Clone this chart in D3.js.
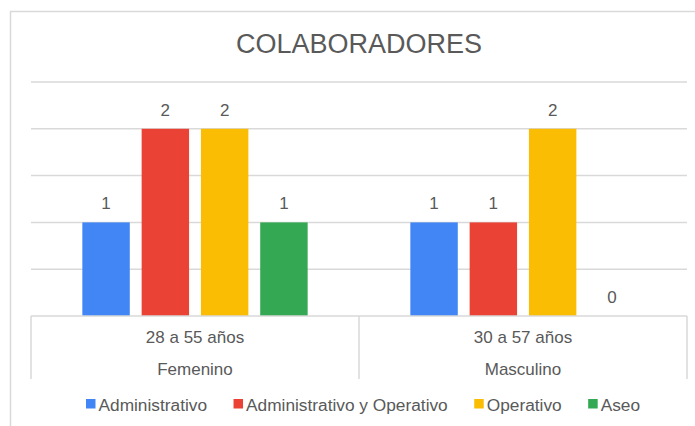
<!DOCTYPE html>
<html>
<head>
<meta charset="utf-8">
<script src="https://cdn.jsdelivr.net/npm/d3@7"></script>
<style>
  html, body { margin: 0; padding: 0; background: #fff; }
  svg { display: block; font-family: "Liberation Sans", Arial, sans-serif; }
</style>
</head>
<body>
<svg id="chart" width="695" height="426"></svg>
<script>
// ---- data ----
const title = "COLABORADORES";
const groups = ["Femenino", "Masculino"];
const ageRanges = ["28 a 55 años", "30 a 57 años"];
const seriesNames = ["Administrativo", "Administrativo y Operativo", "Operativo", "Aseo"];
const seriesColors = ["#4285F4", "#EA4335", "#FBBC04", "#34A853"];
const administrativo = [1, 1];
const adminOperativo = [2, 1];
const operativo = [2, 2];
const aseo = [1, 0];
const yTicks = [0, 0.5, 1, 1.5, 2, 2.5];

const seriesValues = [administrativo, adminOperativo, operativo, aseo];

const svg = d3.select("#chart");
const textColor = "#595959";
const gridColor = "#d9d9d9";

// outer chart border (clipped on right/bottom)
svg.append("rect")
  .attr("x", 10.5).attr("y", 11.5)
  .attr("width", 700).attr("height", 430)
  .attr("fill", "none").attr("stroke", gridColor).attr("stroke-width", 1.5);

// title
svg.append("text")
  .attr("x", 359).attr("y", 53)
  .attr("text-anchor", "middle")
  .attr("font-size", 27)
  .attr("fill", textColor)
  .text(title);

const plotLeft = 31, plotRight = 687;
const y = d3.scaleLinear().domain([0, 2.5]).range([316, 82]);
const x0 = d3.scaleBand().domain(groups).range([plotLeft, plotRight]);
const x1 = d3.scaleBand().domain(seriesNames).range([0, x0.bandwidth()])
  .paddingInner(0.2).paddingOuter(0.866);

// gridlines
svg.append("g").selectAll("line")
  .data(yTicks.slice(1))
  .join("line")
  .attr("x1", plotLeft).attr("x2", plotRight)
  .attr("y1", d => y(d)).attr("y2", d => y(d))
  .attr("stroke", gridColor).attr("stroke-width", 1.5);

// bars
const gGroups = svg.append("g").selectAll("g")
  .data(groups)
  .join("g")
  .attr("transform", d => `translate(${x0(d)},0)`);

gGroups.selectAll("rect")
  .data((g, gi) => seriesNames.map((s, si) => ({ s, si, v: seriesValues[si][gi] })))
  .join("rect")
  .attr("x", d => x1(d.s))
  .attr("width", x1.bandwidth())
  .attr("y", d => y(d.v))
  .attr("height", d => y(0) - y(d.v))
  .attr("fill", d => seriesColors[d.si]);

gGroups.selectAll("text")
  .data((g, gi) => seriesNames.map((s, si) => ({ s, si, v: seriesValues[si][gi] })))
  .join("text")
  .attr("x", d => x1(d.s) + x1.bandwidth() / 2)
  .attr("y", d => y(d.v) - 13)
  .attr("text-anchor", "middle")
  .attr("font-size", 17)
  .attr("fill", textColor)
  .text(d => d.v);

// category axis box
const axisG = svg.append("g");
axisG.append("line")
  .attr("x1", plotLeft).attr("x2", plotRight)
  .attr("y1", y(0)).attr("y2", y(0))
  .attr("stroke", gridColor).attr("stroke-width", 1.5);
const seps = [plotLeft, ...groups.map(g => x0(g) + x0.bandwidth())];
axisG.selectAll("line.sep")
  .data(seps)
  .join("line")
  .attr("class", "sep")
  .attr("x1", d => d).attr("x2", d => d)
  .attr("y1", y(0)).attr("y2", 379)
  .attr("stroke", gridColor).attr("stroke-width", 1.5);

axisG.selectAll("text.age")
  .data(groups)
  .join("text")
  .attr("class", "age")
  .attr("x", d => x0(d) + x0.bandwidth() / 2)
  .attr("y", 343)
  .attr("text-anchor", "middle")
  .attr("font-size", 17)
  .attr("fill", textColor)
  .text((d, i) => ageRanges[i]);

axisG.selectAll("text.grp")
  .data(groups)
  .join("text")
  .attr("class", "grp")
  .attr("x", d => x0(d) + x0.bandwidth() / 2)
  .attr("y", 375)
  .attr("text-anchor", "middle")
  .attr("font-size", 17)
  .attr("fill", textColor)
  .text(d => d);

// legend
const legend = svg.append("g");
let lx = 86;
seriesNames.forEach((name, i) => {
  const item = legend.append("g").attr("transform", `translate(${lx},0)`);
  item.append("rect")
    .attr("x", 0).attr("y", 399)
    .attr("width", 9.5).attr("height", 9.5)
    .attr("fill", seriesColors[i]);
  const t = item.append("text")
    .attr("x", 12.5).attr("y", 411)
    .attr("font-size", 17.3)
    .attr("fill", textColor)
    .text(name);
  const w = t.node().getComputedTextLength();
  lx += 12.5 + w + 26.5;
});
</script>
</body>
</html>
